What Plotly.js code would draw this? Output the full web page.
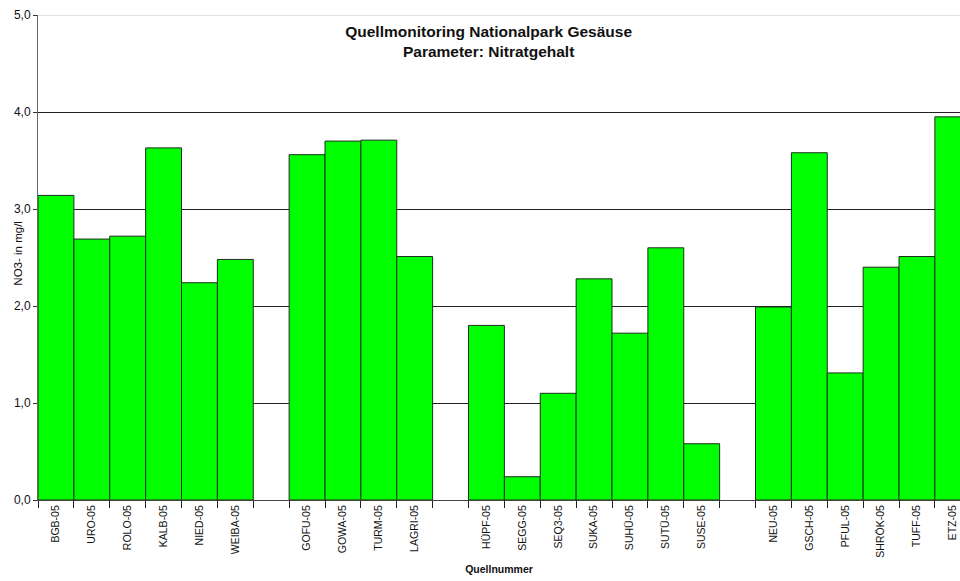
<!DOCTYPE html>
<html>
<head>
<meta charset="utf-8">
<script src="https://cdn.plot.ly/plotly-3.0.1.min.js"></script>
<style>
  html, body { margin: 0; padding: 0; background: #fff; overflow: hidden; }
  #chart { width: 960px; height: 581px; }
</style>
</head>
<body>
<div id="chart"></div>
<script>
// Spring sites, grouped by area; blank entries separate the groups
const sites = [
  'BGB-05', 'URO-05', 'ROLO-05', 'KALB-05', 'NIED-05', 'WEIBA-05',
  ' ',
  'GOFU-05', 'GOWA-05', 'TURM-05', 'LAGRI-05',
  '  ',
  'HÜPF-05', 'SEGG-05', 'SEQ3-05', 'SUKA-05', 'SUHÜ-05', 'SUTÜ-05', 'SUSE-05',
  '   ',
  'NEU-05', 'GSCH-05', 'PFUL-05', 'SHRÖK-05', 'TUFF-05', 'ETZ-05'
];

// Nitrate content (NO3- in mg/l)
const nitrate = [
  3.14, 2.69, 2.72, 3.63, 2.24, 2.48,
  null,
  3.56, 3.70, 3.71, 2.51,
  null,
  1.80, 0.24, 1.10, 2.28, 1.72, 2.60, 0.58,
  null,
  1.99, 3.58, 1.31, 2.40, 2.51, 3.95
];

const yTicks = [0, 1, 2, 3, 4, 5];

const trace = {
  type: 'bar',
  x: sites,
  y: nitrate,
  marker: {
    color: '#00ff00',
    line: { color: '#1c2e1c', width: 1 }
  },
  hoverinfo: 'x+y'
};

const layout = {
  width: 960,
  height: 581,
  margin: { l: 38, r: 0, t: 15, b: 81 },
  paper_bgcolor: '#ffffff',
  plot_bgcolor: '#ffffff',
  separators: ',.',
  bargap: 0,
  showlegend: false,
  font: { family: 'Arial, "Liberation Sans", sans-serif', color: '#111' },
  title: {
    text: '<b>Quellmonitoring Nationalpark Gesäuse</b><br><b>Parameter: Nitratgehalt</b>',
    font: { size: 15.5, color: '#111' },
    xref: 'container', x: 0.509, xanchor: 'center',
    yref: 'container', y: 0.937, yanchor: 'middle'
  },
  xaxis: {
    type: 'category',
    categoryorder: 'array',
    categoryarray: sites,
    range: [-0.5, 25.2],
    tickangle: -90,
    tickson: 'boundaries',
    ticks: 'outside',
    ticklen: 7,
    tickcolor: '#222',
    tickfont: { size: 10.5, color: '#111' },
    showline: true,
    linecolor: '#444',
    linewidth: 1,
    showgrid: false,
    zeroline: false,
    automargin: false,
    title: {
      text: '<b>Quellnummer</b>',
      font: { size: 10.5, color: '#111' },
      standoff: 8
    }
  },
  yaxis: {
    range: [0, 5],
    tickvals: yTicks,
    tickformat: '.1f',
    ticks: 'outside',
    ticklen: 4,
    tickcolor: '#333',
    tickfont: { size: 12, color: '#111' },
    showline: true,
    linecolor: '#666',
    linewidth: 1,
    showgrid: true,
    gridcolor: '#222',
    gridwidth: 1,
    zeroline: false,
    automargin: false
  },
  annotations: [{
    text: 'NO3- in mg/l',
    textangle: -90,
    xref: 'paper', yref: 'paper',
    x: -0.0217, y: 0.51,
    xanchor: 'center', yanchor: 'middle',
    showarrow: false,
    font: { size: 11.5, color: '#111' }
  }],
  shapes: [{
    type: 'line', xref: 'paper', yref: 'y',
    x0: 0, x1: 1, y0: 5, y1: 5,
    line: { color: '#d4d4d4', width: 1.5 },
    layer: 'above'
  }]
};

Plotly.newPlot('chart', [trace], layout, { displayModeBar: false, staticPlot: true });
</script>
</body>
</html>
